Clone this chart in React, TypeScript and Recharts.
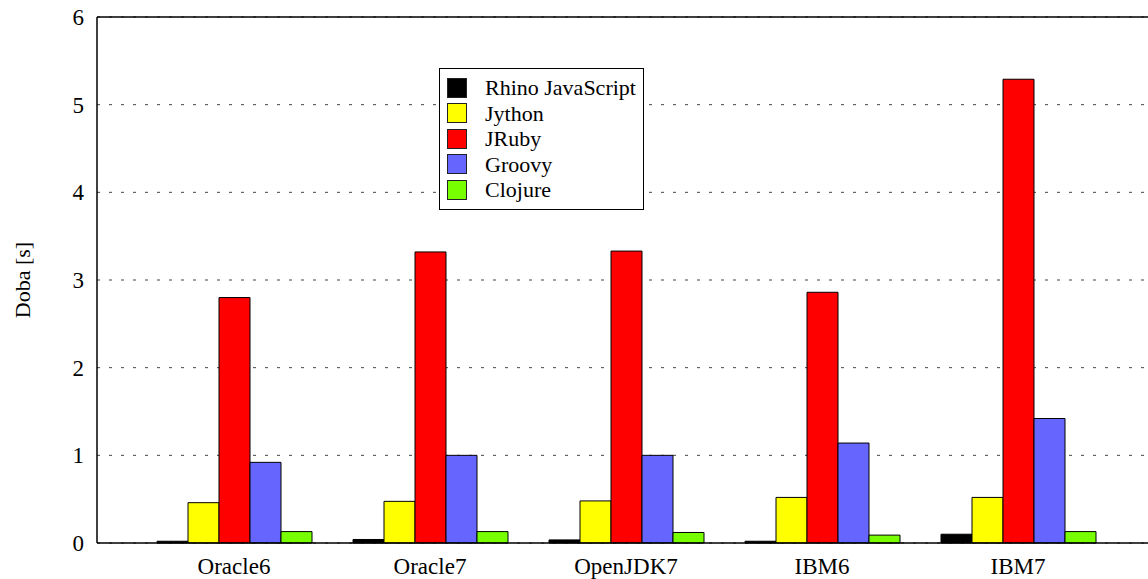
import { BarChart, Bar, XAxis, YAxis, CartesianGrid } from "recharts";

const categories = ["Oracle6", "Oracle7", "OpenJDK7", "IBM6", "IBM7"];

const rhino = [0.02, 0.04, 0.035, 0.02, 0.1];
const jython = [0.46, 0.475, 0.48, 0.52, 0.52];
const jruby = [2.8, 3.32, 3.33, 2.86, 5.29];
const groovy = [0.92, 1.0, 1.0, 1.14, 1.42];
const clojure = [0.13, 0.13, 0.12, 0.09, 0.13];

const yTicks = [0, 1, 2, 3, 4, 5, 6];

const series = [
  { key: "rhino", name: "Rhino JavaScript", color: "#000000", values: rhino },
  { key: "jython", name: "Jython", color: "#ffff00", values: jython },
  { key: "jruby", name: "JRuby", color: "#ff0000", values: jruby },
  { key: "groovy", name: "Groovy", color: "#6666ff", values: groovy },
  { key: "clojure", name: "Clojure", color: "#77ff00", values: clojure },
];

const data = categories.map((name, i) => {
  const row: any = { name };
  series.forEach((s) => {
    row[s.key] = s.values[i];
  });
  return row;
});

const FONT = '"Liberation Serif", "Times New Roman", serif';

function YLabel(props: any) {
  const vb = props.viewBox;
  const x = vb.x + 22;
  const y = vb.y + vb.height / 2;
  return (
    <text
      x={x}
      y={y}
      dy="0.35em"
      textAnchor="middle"
      fontSize={22}
      fill="#000"
      transform={`rotate(-90, ${x}, ${y})`}
    >
      Doba [s]
    </text>
  );
}

function LegendBox() {
  return (
    <div
      style={{
        position: "absolute",
        left: 439,
        top: 68,
        width: 205,
        boxSizing: "border-box",
        border: "1px solid #000",
        background: "#fff",
        padding: "6px 0 6px 7px",
        fontSize: 22,
        lineHeight: "25.5px",
        color: "#000",
      }}
    >
      {series.map((s) => (
        <div key={s.key} style={{ display: "flex", alignItems: "center", height: 25.5 }}>
          <div
            style={{
              width: 20,
              height: 20,
              boxSizing: "border-box",
              background: s.color,
              border: "1px solid #222",
              marginRight: 18,
            }}
          />
          <span>{s.name}</span>
        </div>
      ))}
    </div>
  );
}

export default function App() {
  return (
    <div
      style={{
        position: "relative",
        width: 1148,
        height: 579,
        fontFamily: FONT,
        background: "#fff",
      }}
    >
      <style>{"body { margin: 0; }"}</style>
      <BarChart
        width={1148}
        height={579}
        data={data}
        margin={{ top: 17, right: 0, bottom: 0, left: 0 }}
        barSize={31}
        barGap={0}
      >
        <CartesianGrid
          vertical={false}
          stroke="#444"
          strokeDasharray="3 9"
          strokeWidth={1}
        />
        <XAxis
          dataKey="name"
          height={36}
          padding={{ left: 39, right: 32 }}
          tickLine={false}
          tickSize={6}
          tickMargin={9}
          axisLine={{ stroke: "#000", strokeWidth: 1.5 }}
          tick={{ fill: "#000", fontSize: 23 }}
        />
        <XAxis
          xAxisId="top"
          orientation="top"
          dataKey="name"
          mirror
          padding={{ left: 39, right: 32 }}
          tick={false}
          tickSize={8}
          tickLine={{ stroke: "#000" }}
          axisLine={{ stroke: "#000", strokeWidth: 1.5 }}
        />
        <YAxis
          width={97}
          domain={[0, 6]}
          ticks={yTicks}
          interval={0}
          tickLine={false}
          tickSize={6}
          tickMargin={7}
          axisLine={{ stroke: "#000", strokeWidth: 1.5 }}
          tick={{ fill: "#000", fontSize: 23 }}
          label={{ content: YLabel }}
        />
        <YAxis
          yAxisId="inner"
          mirror
          domain={[0, 6]}
          ticks={yTicks}
          tick={false}
          tickSize={9}
          axisLine={false}
          tickLine={{ stroke: "#000" }}
        />
        {series.map((s) => (
          <Bar
            key={s.key}
            dataKey={s.key}
            name={s.name}
            fill={s.color}
            stroke="#000"
            strokeWidth={1}
            isAnimationActive={false}
          />
        ))}
      </BarChart>
      <LegendBox />
    </div>
  );
}
